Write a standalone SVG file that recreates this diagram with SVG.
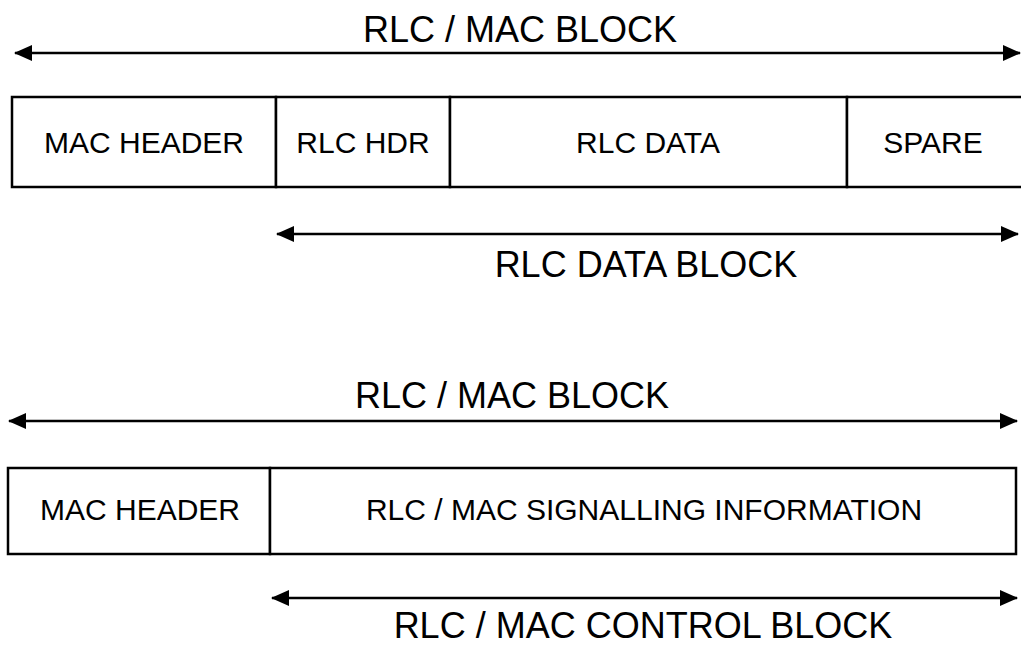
<svg xmlns="http://www.w3.org/2000/svg" width="1021" height="646" viewBox="0 0 1021 646">
<defs>
<marker id="ah" viewBox="0 0 18 16" refX="17" refY="8" markerWidth="18" markerHeight="16" markerUnits="userSpaceOnUse" orient="auto-start-reverse">
<path d="M0,0 L18,8 L0,16 Z" fill="#000"/>
</marker>
</defs>
<style>
text{font-family:"Liberation Sans",Arial,sans-serif;fill:#000;text-anchor:middle}
.t{font-size:36px}
.c{font-size:30px}
.box{fill:#fff;stroke:#000;stroke-width:2.5}
.arr{stroke:#000;stroke-width:2.5;fill:none;marker-start:url(#ah);marker-end:url(#ah)}
</style>
<rect width="1021" height="646" fill="#fff"/>
<g id="connectors">
<line class="arr" x1="15" y1="53" x2="1020" y2="53"/>
<line class="arr" x1="277" y1="234" x2="1018" y2="234"/>
<line class="arr" x1="9" y1="421" x2="1017" y2="421"/>
<line class="arr" x1="272" y1="598" x2="1017" y2="598"/>
</g>
<g id="label-top-mac-block"><text class="t" x="520" y="42">RLC / MAC BLOCK</text></g>
<g id="mac-header-1"><rect class="box" x="12" y="97" width="264" height="90"/><text class="c" x="144" y="153">MAC HEADER</text></g>
<g id="rlc-hdr"><rect class="box" x="276" y="97" width="174" height="90"/><text class="c" x="363" y="153">RLC HDR</text></g>
<g id="rlc-data"><rect class="box" x="450" y="97" width="397" height="90"/><text class="c" x="648" y="153">RLC DATA</text></g>
<g id="spare"><rect class="box" x="847" y="97" width="176" height="90"/><text class="c" x="933" y="153">SPARE</text></g>
<g id="label-rlc-data-block"><text class="t" x="646" y="277">RLC DATA BLOCK</text></g>
<g id="label-bottom-mac-block"><text class="t" x="512" y="408">RLC / MAC BLOCK</text></g>
<g id="mac-header-2"><rect class="box" x="8" y="468" width="262" height="86"/><text class="c" x="140" y="520">MAC HEADER</text></g>
<g id="signalling"><rect class="box" x="270" y="468" width="746" height="86"/><text class="c" x="644" y="520">RLC / MAC SIGNALLING INFORMATION</text></g>
<g id="label-control-block"><text class="t" x="643" y="638">RLC / MAC CONTROL BLOCK</text></g>
</svg>
